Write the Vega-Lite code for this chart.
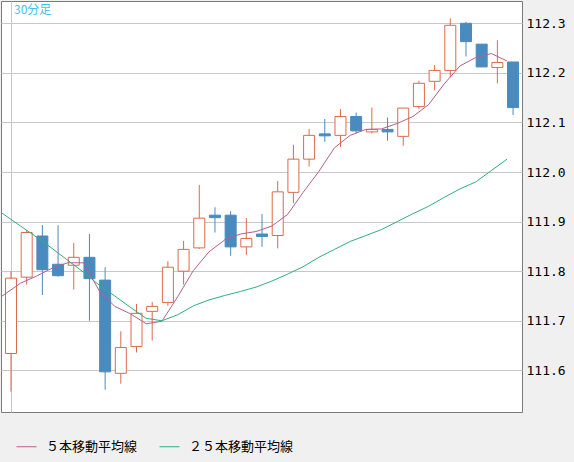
{
  "$schema": "https://vega.github.io/schema/vega-lite/v6.json",
  "width": 521,
  "height": 411,
  "autosize": {"type": "none"},
  "padding": {"left": 1, "top": 1, "right": 52, "bottom": 50},
  "background": "#f0f0f0",
  "title": {"text": "30分足", "anchor": "start", "frame": "group", "orient": "top", "offset": -16, "dx": 13, "fontSize": 12, "font": "Noto Sans CJK JP", "fontWeight": "normal", "color": "#3cc3f0"},
  "datasets": {
    "candles": [
      {"i": 1, "open": 111.634, "high": 111.800, "low": 111.557, "close": 111.786},
      {"i": 2, "open": 111.788, "high": 111.883, "low": 111.773, "close": 111.878},
      {"i": 3, "open": 111.871, "high": 111.893, "low": 111.752, "close": 111.803},
      {"i": 4, "open": 111.814, "high": 111.893, "low": 111.789, "close": 111.791},
      {"i": 5, "open": 111.812, "high": 111.857, "low": 111.763, "close": 111.828},
      {"i": 6, "open": 111.828, "high": 111.875, "low": 111.700, "close": 111.785},
      {"i": 7, "open": 111.782, "high": 111.808, "low": 111.561, "close": 111.597},
      {"i": 8, "open": 111.594, "high": 111.679, "low": 111.573, "close": 111.646},
      {"i": 9, "open": 111.648, "high": 111.734, "low": 111.636, "close": 111.715},
      {"i": 10, "open": 111.719, "high": 111.738, "low": 111.660, "close": 111.729},
      {"i": 11, "open": 111.737, "high": 111.820, "low": 111.730, "close": 111.808},
      {"i": 12, "open": 111.800, "high": 111.861, "low": 111.773, "close": 111.844},
      {"i": 13, "open": 111.847, "high": 111.974, "low": 111.845, "close": 111.907},
      {"i": 14, "open": 111.913, "high": 111.929, "low": 111.878, "close": 111.908},
      {"i": 15, "open": 111.913, "high": 111.921, "low": 111.831, "close": 111.849},
      {"i": 16, "open": 111.849, "high": 111.907, "low": 111.833, "close": 111.866},
      {"i": 17, "open": 111.875, "high": 111.915, "low": 111.849, "close": 111.870},
      {"i": 18, "open": 111.872, "high": 111.982, "low": 111.846, "close": 111.960},
      {"i": 19, "open": 111.959, "high": 112.055, "low": 111.937, "close": 112.026},
      {"i": 20, "open": 112.026, "high": 112.087, "low": 112.011, "close": 112.074},
      {"i": 21, "open": 112.077, "high": 112.107, "low": 112.061, "close": 112.073},
      {"i": 22, "open": 112.074, "high": 112.127, "low": 112.051, "close": 112.112},
      {"i": 23, "open": 112.112, "high": 112.120, "low": 112.078, "close": 112.083},
      {"i": 24, "open": 112.081, "high": 112.130, "low": 112.078, "close": 112.086},
      {"i": 25, "open": 112.086, "high": 112.110, "low": 112.063, "close": 112.081},
      {"i": 26, "open": 112.072, "high": 112.129, "low": 112.053, "close": 112.129},
      {"i": 27, "open": 112.132, "high": 112.184, "low": 112.127, "close": 112.179},
      {"i": 28, "open": 112.183, "high": 112.216, "low": 112.165, "close": 112.205},
      {"i": 29, "open": 112.205, "high": 112.310, "low": 112.191, "close": 112.296},
      {"i": 30, "open": 112.300, "high": 112.303, "low": 112.233, "close": 112.263},
      {"i": 31, "open": 112.258, "high": 112.258, "low": 112.212, "close": 112.212},
      {"i": 32, "open": 112.211, "high": 112.266, "low": 112.179, "close": 112.221},
      {"i": 33, "open": 112.222, "high": 112.222, "low": 112.115, "close": 112.130}
    ],
    "ma": [
      {"i": 0, "series": "５本移動平均線", "value": 111.732},
      {"i": 1, "series": "５本移動平均線", "value": 111.754},
      {"i": 2, "series": "５本移動平均線", "value": 111.776},
      {"i": 3, "series": "５本移動平均線", "value": 111.790},
      {"i": 4, "series": "５本移動平均線", "value": 111.806},
      {"i": 5, "series": "５本移動平均線", "value": 111.817},
      {"i": 6, "series": "５本移動平均線", "value": 111.817},
      {"i": 7, "series": "５本移動平均線", "value": 111.761},
      {"i": 8, "series": "５本移動平均線", "value": 111.729},
      {"i": 9, "series": "５本移動平均線", "value": 111.714},
      {"i": 10, "series": "５本移動平均線", "value": 111.694},
      {"i": 11, "series": "５本移動平均線", "value": 111.699},
      {"i": 12, "series": "５本移動平均線", "value": 111.748},
      {"i": 13, "series": "５本移動平均線", "value": 111.801},
      {"i": 14, "series": "５本移動平均線", "value": 111.839},
      {"i": 15, "series": "５本移動平均線", "value": 111.863},
      {"i": 16, "series": "５本移動平均線", "value": 111.875},
      {"i": 17, "series": "５本移動平均線", "value": 111.880},
      {"i": 18, "series": "５本移動平均線", "value": 111.891},
      {"i": 19, "series": "５本移動平均線", "value": 111.914},
      {"i": 20, "series": "５本移動平均線", "value": 111.959},
      {"i": 21, "series": "５本移動平均線", "value": 112.001},
      {"i": 22, "series": "５本移動平均線", "value": 112.049},
      {"i": 23, "series": "５本移動平均線", "value": 112.074},
      {"i": 24, "series": "５本移動平均線", "value": 112.086},
      {"i": 25, "series": "５本移動平均線", "value": 112.087},
      {"i": 26, "series": "５本移動平均線", "value": 112.098},
      {"i": 27, "series": "５本移動平均線", "value": 112.112},
      {"i": 28, "series": "５本移動平均線", "value": 112.136},
      {"i": 29, "series": "５本移動平均線", "value": 112.178},
      {"i": 30, "series": "５本移動平均線", "value": 112.214},
      {"i": 31, "series": "５本移動平均線", "value": 112.231},
      {"i": 32, "series": "５本移動平均線", "value": 112.239},
      {"i": 33, "series": "５本移動平均線", "value": 112.224},
      {"i": 0, "series": "２５本移動平均線", "value": 111.935},
      {"i": 1, "series": "２５本移動平均線", "value": 111.913},
      {"i": 2, "series": "２５本移動平均線", "value": 111.891},
      {"i": 3, "series": "２５本移動平均線", "value": 111.869},
      {"i": 4, "series": "２５本移動平均線", "value": 111.846},
      {"i": 5, "series": "２５本移動平均線", "value": 111.822},
      {"i": 6, "series": "２５本移動平均線", "value": 111.798},
      {"i": 7, "series": "２５本移動平均線", "value": 111.772},
      {"i": 8, "series": "２５本移動平均線", "value": 111.750},
      {"i": 9, "series": "２５本移動平均線", "value": 111.727},
      {"i": 10, "series": "２５本移動平均線", "value": 111.705},
      {"i": 11, "series": "２５本移動平均線", "value": 111.700},
      {"i": 12, "series": "２５本移動平均線", "value": 111.712},
      {"i": 13, "series": "２５本移動平均線", "value": 111.730},
      {"i": 14, "series": "２５本移動平均線", "value": 111.742},
      {"i": 15, "series": "２５本移動平均線", "value": 111.751},
      {"i": 16, "series": "２５本移動平均線", "value": 111.759},
      {"i": 17, "series": "２５本移動平均線", "value": 111.768},
      {"i": 18, "series": "２５本移動平均線", "value": 111.780},
      {"i": 19, "series": "２５本移動平均線", "value": 111.794},
      {"i": 20, "series": "２５本移動平均線", "value": 111.809},
      {"i": 21, "series": "２５本移動平均線", "value": 111.828},
      {"i": 22, "series": "２５本移動平均線", "value": 111.844},
      {"i": 23, "series": "２５本移動平均線", "value": 111.860},
      {"i": 24, "series": "２５本移動平均線", "value": 111.872},
      {"i": 25, "series": "２５本移動平均線", "value": 111.884},
      {"i": 26, "series": "２５本移動平均線", "value": 111.900},
      {"i": 27, "series": "２５本移動平均線", "value": 111.916},
      {"i": 28, "series": "２５本移動平均線", "value": 111.931},
      {"i": 29, "series": "２５本移動平均線", "value": 111.949},
      {"i": 30, "series": "２５本移動平均線", "value": 111.966},
      {"i": 31, "series": "２５本移動平均線", "value": 111.980},
      {"i": 32, "series": "２５本移動平均線", "value": 112.003},
      {"i": 33, "series": "２５本移動平均線", "value": 112.026}
    ]
  },
  "encoding": {
    "x": {"field": "i", "type": "quantitative", "scale": {"domain": [0.363, 33.57], "nice": false, "zero": false, "padding": 0},
      "axis": {"values": [1], "labels": false, "ticks": false, "domain": false, "title": null, "grid": true, "gridColor": "#c8c8c8", "gridWidth": 1}}
  },
  "layer": [
    {
      "data": {"name": "candles"},
      "mark": {"type": "rule", "strokeWidth": 1},
      "encoding": {
        "y": {"field": "low", "type": "quantitative", "scale": {"domain": [111.516, 112.345], "nice": false, "zero": false},
          "axis": {"orient": "right", "values": [111.6, 111.7, 111.8, 111.9, 112.0, 112.1, 112.2, 112.3], "format": ".1f", "title": null, "grid": true, "gridColor": "#c8c8c8", "gridWidth": 1, "domain": false, "ticks": false, "labelFont": "DejaVu Sans Mono", "labelFontSize": 13, "labelColor": "#000000", "labelPadding": 4}},
        "y2": {"field": "high"},
        "stroke": {"condition": {"test": "datum.close >= datum.open", "value": "#d96b4c"}, "value": "#4a8bbf"}
      }
    },
    {
      "data": {"name": "candles"},
      "mark": {"type": "bar", "width": 11, "strokeWidth": 1},
      "encoding": {
        "y": {"field": "open", "type": "quantitative", "scale": {"domain": [111.516, 112.345], "nice": false, "zero": false},
          "axis": {"orient": "right", "values": [111.6, 111.7, 111.8, 111.9, 112.0, 112.1, 112.2, 112.3], "format": ".1f", "title": null, "grid": true, "gridColor": "#c8c8c8", "gridWidth": 1, "domain": false, "ticks": false, "labelFont": "DejaVu Sans Mono", "labelFontSize": 13, "labelColor": "#000000", "labelPadding": 4}},
        "y2": {"field": "close"},
        "fill": {"condition": {"test": "datum.close >= datum.open", "value": "#ffffff"}, "value": "#4a8bbf"},
        "stroke": {"condition": {"test": "datum.close >= datum.open", "value": "#d96b4c"}, "value": "#4a8bbf"}
      }
    },
    {
      "data": {"name": "ma"},
      "mark": {"type": "line", "strokeWidth": 1, "xOffset": -6, "clip": true},
      "encoding": {
        "y": {"field": "value", "type": "quantitative", "scale": {"domain": [111.516, 112.345], "nice": false, "zero": false},
          "axis": {"orient": "right", "values": [111.6, 111.7, 111.8, 111.9, 112.0, 112.1, 112.2, 112.3], "format": ".1f", "title": null, "grid": true, "gridColor": "#c8c8c8", "gridWidth": 1, "domain": false, "ticks": false, "labelFont": "DejaVu Sans Mono", "labelFontSize": 13, "labelColor": "#000000", "labelPadding": 4}},
        "color": {"field": "series", "type": "nominal",
          "scale": {"domain": ["５本移動平均線", "２５本移動平均線"], "range": ["#b4608c", "#2eb07c"]},
          "legend": {"orient": "none", "legendX": 15, "legendY": 435, "direction": "horizontal", "title": null, "symbolType": "stroke", "symbolSize": 400, "symbolStrokeWidth": 1, "labelFont": "Noto Sans CJK JP", "labelFontSize": 13, "labelColor": "#000000", "labelOffset": 9, "columnPadding": 19, "padding": 0}}
      }
    }
  ],
  "config": {
    "view": {"fill": "#ffffff", "stroke": "#7a7a7a", "strokeWidth": 1}
  }
}
